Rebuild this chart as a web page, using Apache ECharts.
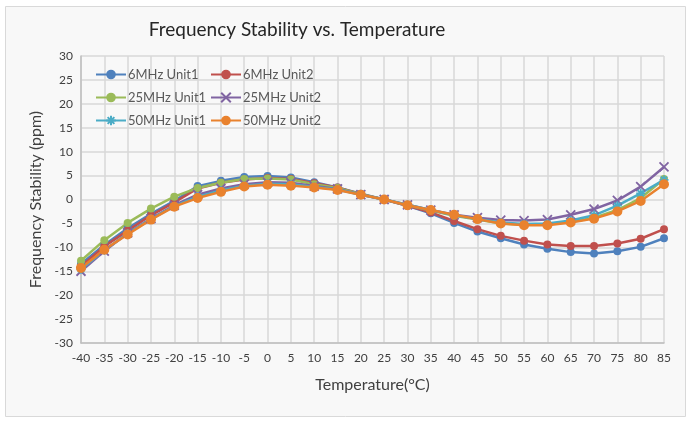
<!DOCTYPE html>
<html><head><meta charset="utf-8">
<script src="https://cdn.jsdelivr.net/npm/echarts@6/dist/echarts.min.js"></script>
<style>html,body{margin:0;padding:0;background:#fff}#c{width:700px;height:423px}</style>
</head><body><div id="c"></div>
<script>
const temps = [-40,-35,-30,-25,-20,-15,-10,-5,0,5,10,15,20,25,30,35,40,45,50,55,60,65,70,75,80,85];
const mhz6u1  = [-13.5,-9.5,-6.0,-3.0,-0.3,2.8,3.9,4.7,4.9,4.6,3.6,2.5,1.2,0,-1.3,-2.9,-4.9,-6.7,-8.1,-9.4,-10.3,-11.0,-11.3,-10.8,-9.9,-8.1];
const mhz6u2  = [-14.0,-9.8,-6.5,-3.3,-0.6,2.3,3.5,4.2,4.5,4.3,3.4,2.5,1.1,0,-1.3,-2.7,-4.5,-6.2,-7.6,-8.6,-9.4,-9.7,-9.7,-9.2,-8.2,-6.2];
const mhz25u1 = [-12.8,-8.5,-4.9,-1.9,0.6,2.4,3.5,4.3,4.4,4.2,3.2,2.4,1.1,0,-1.2,-2.3,-3.4,-4.2,-5.0,-5.3,-5.2,-4.7,-3.8,-2.2,0.3,4.3];
const mhz25u2 = [-15.0,-10.8,-7.0,-4.0,-1.2,1.0,2.3,3.2,3.6,3.5,2.8,2.2,1.0,0,-1.1,-2.2,-3.2,-3.8,-4.3,-4.4,-4.2,-3.2,-2.0,-0.2,2.7,6.8];
const mhz50u1 = [-14.6,-10.6,-7.1,-4.1,-1.4,0.6,1.9,2.9,3.3,3.2,2.6,2.1,1.0,0,-1.1,-2.2,-3.3,-4.1,-4.8,-5.1,-5.0,-4.4,-3.3,-1.3,1.3,4.1];
const mhz50u2 = [-14.3,-10.5,-7.3,-4.2,-1.5,0.3,1.6,2.7,3.1,2.9,2.5,2.0,1.0,0,-1.2,-2.2,-3.2,-4.1,-5.0,-5.4,-5.4,-4.8,-4.0,-2.5,-0.3,3.2];
const seriesNames = ['6MHz Unit1','6MHz Unit2','25MHz Unit1','25MHz Unit2','50MHz Unit1','50MHz Unit2'];
const seriesValues = [mhz6u1, mhz6u2, mhz25u1, mhz25u2, mhz50u1, mhz50u2];
const colors = ['#4F81BD','#C0504D','#9BBB59','#8064A2','#4BACC6','#E9822E'];
const starPath = 'path://M0,-10L0,10M-10,0L10,0M-7,-7L7,7M-7,7L7,-7';
const xPath = 'path://M-10,-10L10,10M-10,10L10,-10';
const symbols = ['circle','circle','circle',xPath,starPath,'circle'];
const sizes = [8,8,8,9,9,10];

const chart = echarts.init(document.getElementById('c'));
const font = 'Lato, "Open Sans", sans-serif';
chart.setOption({
  animation:false,
  color: colors,
  graphic:[{type:'rect', z:-10, shape:{x:5.5,y:6.5,width:680,height:410}, style:{fill:'#f8f8f8', stroke:'#d9d9d9', lineWidth:1}}],
  title:{text:'Frequency Stability vs. Temperature', left:292, top:15, textAlign:'center',
    textStyle:{fontFamily:font, fontSize:19, fontWeight:'normal', color:'#262626'}},
  legend:[
    {data:[seriesNames[0],seriesNames[2],seriesNames[4]], orient:'vertical', left:90, top:63, itemWidth:30, itemHeight:12, itemGap:10,
     textStyle:{fontFamily:font, fontSize:13, color:'#595959', padding:[0,0,0,-3]}},
    {data:[seriesNames[1],seriesNames[3],seriesNames[5]], orient:'vertical', left:205, top:63, itemWidth:30, itemHeight:12, itemGap:10,
     textStyle:{fontFamily:font, fontSize:13, color:'#595959', padding:[0,0,0,-3]}}
  ],
  grid:{left:81, right:36, top:56, bottom:80},
  xAxis:{type:'value', min:-40, max:85, interval:5,
    name:'Temperature(°C)', nameLocation:'middle', nameGap:34,
    nameTextStyle:{fontFamily:font, fontSize:16, color:'#404040'},
    axisLine:{onZero:false, lineStyle:{color:'#bfbfbf', width:1.5}}, axisTick:{show:false},
    axisLabel:{fontFamily:font, fontSize:12, color:'#404040', margin:9},
    splitLine:{show:true, lineStyle:{color:'#d9d9d9', width:1.5}}},
  yAxis:{type:'value', min:-30, max:30, interval:5,
    name:'Frequency Stability (ppm)', nameLocation:'middle', nameGap:36, nameRotate:90,
    nameTextStyle:{fontFamily:font, fontSize:16, color:'#404040'},
    axisLine:{show:true, onZero:false, lineStyle:{color:'#bfbfbf', width:1.5}}, axisTick:{show:false},
    axisLabel:{fontFamily:font, fontSize:12, color:'#404040', margin:8},
    splitLine:{show:true, lineStyle:{color:'#d9d9d9', width:1.5}}},
  series: seriesNames.map((n,i)=>({
    name:n, type:'line', data: temps.map((t,j)=>[t, seriesValues[i][j]]),
    symbol: symbols[i], symbolSize: sizes[i], showSymbol:true,
    lineStyle:{width:2.5, color:colors[i]},
    itemStyle:{color:colors[i], borderColor:colors[i], borderWidth: (i===3||i===4)?1.8:0}
  }))
});
</script></body></html>
